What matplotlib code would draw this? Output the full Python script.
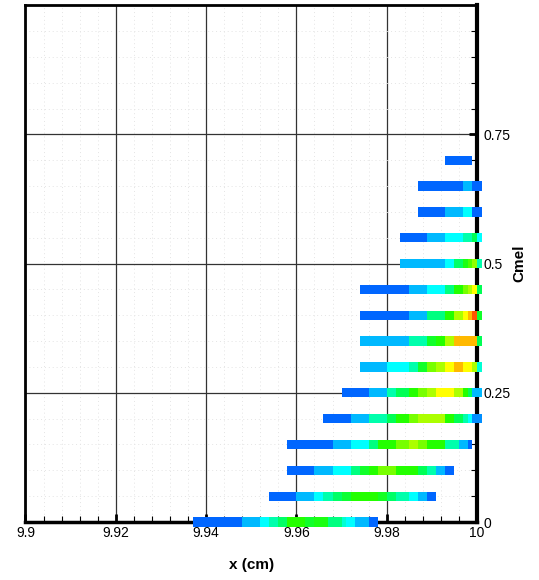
import numpy as np
import matplotlib
matplotlib.use("Agg")
import matplotlib.pyplot as plt
from matplotlib.colors import LinearSegmentedColormap, Normalize
from matplotlib.ticker import MultipleLocator

plt.rcParams['font.family'] = ['Liberation Sans', 'DejaVu Sans']

# row positions (Cmel) and cell edges / contour levels for each row
cmel = [0.0, 0.05, 0.10, 0.15, 0.20, 0.25, 0.30, 0.35, 0.40, 0.45,
        0.50, 0.55, 0.60, 0.65, 0.70]

edges = [
    [9.937, 9.948, 9.952, 9.954, 9.956, 9.958, 9.962, 9.964, 9.967, 9.970, 9.971, 9.973, 9.976, 9.978],
    [9.954, 9.960, 9.964, 9.966, 9.968, 9.970, 9.972, 9.978, 9.980, 9.982, 9.985, 9.987, 9.989, 9.991],
    [9.958, 9.964, 9.968, 9.972, 9.974, 9.976, 9.978, 9.982, 9.987, 9.989, 9.991, 9.993, 9.995],
    [9.958, 9.968, 9.972, 9.976, 9.978, 9.982, 9.985, 9.987, 9.989, 9.993, 9.996, 9.998, 9.999],
    [9.966, 9.972, 9.976, 9.980, 9.982, 9.985, 9.987, 9.993, 9.995, 9.997, 9.998, 9.999, 10.001],
    [9.970, 9.976, 9.980, 9.982, 9.985, 9.987, 9.989, 9.991, 9.995, 9.997, 9.998, 9.999, 10.001],
    [9.974, 9.980, 9.985, 9.987, 9.989, 9.991, 9.993, 9.995, 9.997, 9.999, 10.000, 10.001],
    [9.974, 9.985, 9.989, 9.991, 9.993, 9.995, 10.000, 10.001],
    [9.974, 9.985, 9.989, 9.993, 9.995, 9.997, 9.998, 9.999, 10.000, 10.001],
    [9.974, 9.985, 9.989, 9.993, 9.995, 9.997, 9.998, 9.999, 10.000, 10.001],
    [9.983, 9.993, 9.995, 9.997, 9.998, 9.999, 10.000, 10.001],
    [9.983, 9.989, 9.993, 9.997, 9.999, 10.000, 10.001],
    [9.987, 9.993, 9.997, 9.999, 10.001],
    [9.987, 9.997, 9.999, 10.001],
    [9.993, 9.999],
]

levels = [
    [0, 1, 2, 3, 3.8, 5, 4.5, 4.8, 3.5, 2.5, 2, 1, 0],
    [0, 1, 2, 3, 3.8, 4.4, 5, 4.6, 3.8, 3, 2, 1, 0],
    [0, 1, 2, 3.5, 4.5, 5, 6, 5, 4, 3, 1, 0],
    [0, 1, 2, 3.5, 5, 6, 7, 6, 5, 3, 1, 0],
    [0, 1, 3, 4, 5, 6, 7, 5, 4, 3, 2, 0.5],
    [0, 1, 3, 4, 5, 6, 7, 8, 7, 5, 4, 1],
    [1, 2, 3, 4.5, 6, 7, 8, 9, 8, 7, 2.5],
    [1, 3, 4.5, 5, 7, 9, 4],
    [0, 1, 3.5, 5, 7, 8, 9, 10, 4.5],
    [0, 1, 2, 3.5, 5, 6, 7, 8, 4],
    [1, 2, 3.8, 4.8, 5.5, 6.5, 3],
    [0, 1, 2, 3, 4, 2],
    [0, 1, 2, 0],
    [0, 1, 0],
    [0],
]

xticks = [9.9, 9.92, 9.94, 9.96, 9.98, 10]
xticklabels = ['9.9', '9.92', '9.94', '9.96', '9.98', '10']
yticks = [0, 0.25, 0.5, 0.75]
yticklabels = ['0', '0.25', '0.5', '0.75']

cmap = LinearSegmentedColormap.from_list('rainbow_tp', [
    '#0066FF', '#00BBFF', '#00FFFF', '#00FFAA', '#00FF55', '#22FF00',
    '#77FF00', '#AAFF00', '#FFFF00', '#FFBB00', '#FF5500'])
norm = Normalize(0, 10)

fig = plt.figure(figsize=(5.39, 5.80), dpi=100)
ax = fig.add_axes([0.0473, 0.1, 0.8377, 0.891])

for y, e, lv in zip(cmel, edges, levels):
    e = np.array(e)
    ax.barh(np.full(len(lv), y), np.diff(e), left=e[:-1], height=0.018,
            color=cmap(norm(np.array(lv))), linewidth=0, clip_on=False, zorder=6)

ax.set_xlim(9.9, 10)
ax.set_ylim(0, 1)

ax.set_xticks(xticks)
ax.set_xticklabels(xticklabels)
ax.xaxis.set_minor_locator(MultipleLocator(0.004))
ax.yaxis.tick_right()
ax.yaxis.set_label_position('right')
ax.set_yticks(yticks)
ax.set_yticklabels(yticklabels)
ax.yaxis.set_minor_locator(MultipleLocator(0.05))

ax.tick_params(which='major', direction='in', length=6, width=2, labelsize=10, pad=3)
ax.tick_params(which='minor', direction='in', length=4, width=0.8)
ax.tick_params(axis='x', which='both', top=False)
ax.tick_params(axis='y', which='both', left=False, pad=5)

ax.grid(which='minor', color='#e4e4e4', linestyle=(0, (1, 3)), linewidth=0.7, zorder=0)
ax.grid(which='major', color='#333333', linestyle='-', linewidth=0.9, zorder=1)
ax.set_axisbelow(True)

for side, lw in [('left', 2), ('top', 2), ('bottom', 2.5), ('right', 3)]:
    ax.spines[side].set_linewidth(lw)
    ax.spines[side].set_zorder(4)

ax.set_xlabel('x (cm)', fontsize=11, fontweight='bold', labelpad=13)
ax.set_ylabel('Cmel', fontsize=11, fontweight='bold', labelpad=1)

fig.savefig('out.png', dpi=100)
